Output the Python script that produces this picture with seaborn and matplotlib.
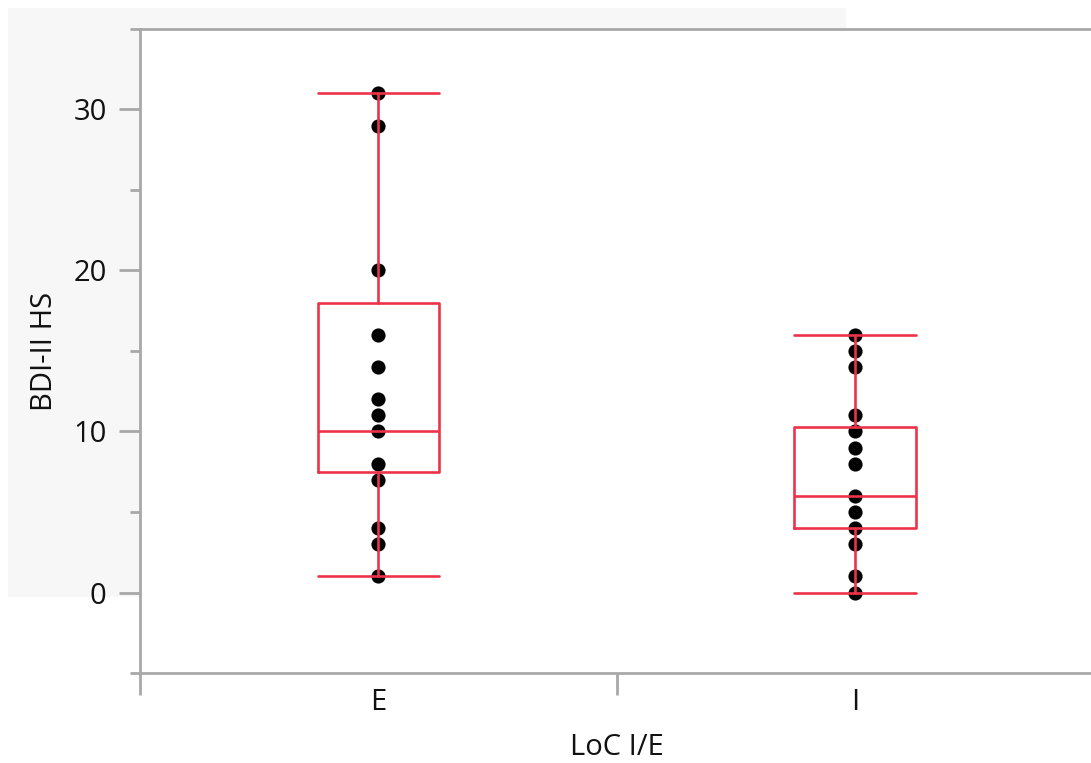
import matplotlib
matplotlib.use("Agg")
import matplotlib.pyplot as plt
import seaborn as sns
import pandas as pd
from matplotlib.patches import Rectangle

# ---- data ----
categories = ["E", "I"]
e_values = [31, 29, 20, 16, 14, 12, 11, 10, 8, 7, 4, 3, 1]
i_values = [16, 15, 14, 11, 10, 9, 8, 6, 5, 4, 3, 1, 0]
box_q1 = [7.5, 4.0]
box_median = [10.0, 6.0]
box_q3 = [18.0, 10.3]
whisker_low = [1, 0]
whisker_high = [31, 16]
y_major_ticks = [0, 10, 20, 30]
y_minor_ticks = [-5, 5, 15, 25, 35]

x_name = "LoC I/E"
y_name = "BDI-II HS"

df = pd.DataFrame({
    x_name: ["E"] * len(e_values) + ["I"] * len(i_values),
    y_name: e_values + i_values,
})

RED = "#ed3349"
GRAY = "#a8a8a8"
TXT = "#111111"
FS = 21

sns.set_style("white")
plt.rcParams["font.family"] = ["Open Sans", "DejaVu Sans"]

W, H = 1091, 763
fig = plt.figure(figsize=(W / 100, H / 100), dpi=100)
bg = Rectangle((8 / W, 1 - 597 / H), (846 - 8) / W, (597 - 8) / H,
               transform=fig.transFigure, facecolor="#f7f7f7",
               edgecolor="none", zorder=-5)
fig.patches.append(bg)
ax = fig.add_axes([140 / W, 1 - 673 / H, (1093.5 - 140) / W, (673 - 29) / H])
ax.set_zorder(1)
ax.set_facecolor("white")

sns.stripplot(data=df, x=x_name, y=y_name, order=categories, jitter=False,
              color="black", size=10.2, linewidth=0, ax=ax, zorder=2)

stats = []
for k, c in enumerate(categories):
    stats.append(dict(label=c, q1=box_q1[k], med=box_median[k], q3=box_q3[k],
                      whislo=whisker_low[k], whishi=whisker_high[k], fliers=[]))
lp = dict(color=RED, linewidth=1.9)
ax.bxp(stats, positions=[0, 1], widths=0.255, capwidths=0.255, showfliers=False,
       boxprops=lp, whiskerprops=lp, capprops=lp, medianprops=lp,
       manage_ticks=False, zorder=3)

ax.set_xlim(-0.5, 1.5)
ax.set_ylim(-5, 35)

ax.set_yticks(y_major_ticks)
ax.set_yticklabels([str(v) for v in y_major_ticks])
ax.set_yticks(y_minor_ticks, minor=True)
ax.tick_params(axis="y", which="major", length=15, width=2, color=GRAY, pad=9,
               labelsize=FS, labelcolor=TXT, left=True)
ax.tick_params(axis="y", which="minor", length=7, width=2, color=GRAY, left=True)

ax.set_xticks([-0.5, 0.5, 1.5])
ax.set_xticklabels(["", "", ""])
ax.set_xticks([0, 1], minor=True)
ax.set_xticklabels(categories, minor=True)
ax.tick_params(axis="x", which="major", length=16, width=2, color=GRAY, bottom=True)
ax.tick_params(axis="x", which="minor", length=0, pad=11, labelsize=FS,
               labelcolor=TXT, bottom=True)

for side in ["left", "bottom", "top"]:
    ax.spines[side].set_visible(True)
    ax.spines[side].set_color(GRAY)
    ax.spines[side].set_linewidth(2)
ax.spines["right"].set_visible(False)

ax.set_xlabel(x_name, fontsize=FS, color=TXT, labelpad=11)
ax.set_ylabel(y_name, fontsize=FS, color=TXT, labelpad=10)

fig.savefig("out.png", dpi=100)
